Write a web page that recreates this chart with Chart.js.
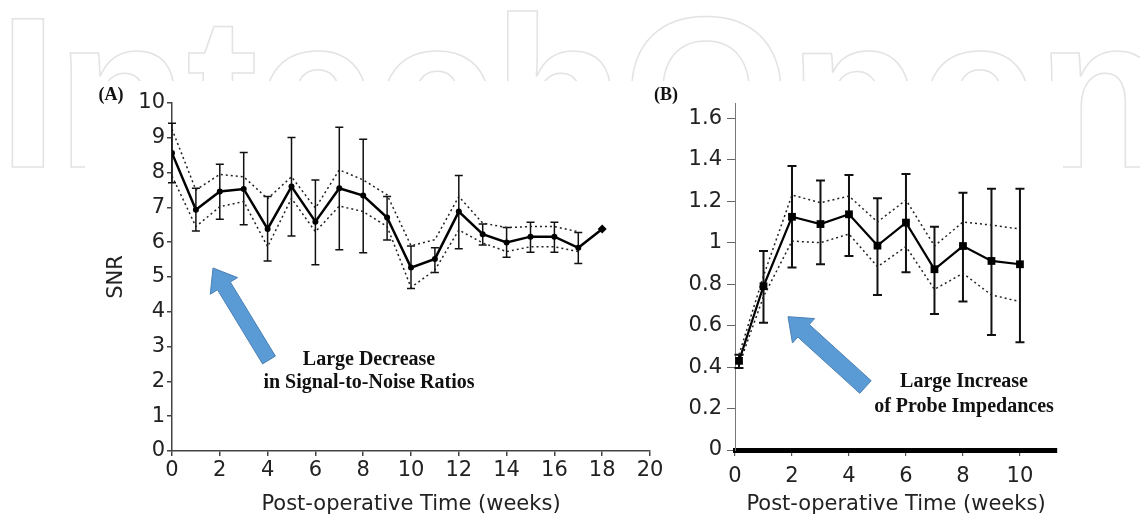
<!DOCTYPE html>
<html><head><meta charset="utf-8">
<script src="https://cdn.jsdelivr.net/npm/chart.js@4.4.1/dist/chart.umd.min.js"></script>
<style>
html,body{margin:0;padding:0;background:#fff;}
#wrap{position:relative;width:1140px;height:520px;overflow:hidden;background:#fff;}
#wm{position:absolute;left:0;top:0;}
#box{position:absolute;left:85px;top:81px;width:978px;height:439px;background:#fff;}
#ca{position:absolute;left:0;top:0;}
#cb{position:absolute;left:570px;top:0;}
</style></head><body>
<div id="wrap">
<svg id="wm" width="1140" height="520"><text x="-2" y="167" textLength="1170" lengthAdjust="spacing" font-family="Liberation Sans, Arial, sans-serif" font-weight="700" font-size="215" fill="none" stroke="#e3e3e3" stroke-width="1.5">IntechOpen</text></svg>
<div id="box"></div>
<canvas id="ca" width="680" height="520"></canvas>
<canvas id="cb" width="570" height="520"></canvas>
</div>
<script>
// ---- Panel A: SNR ----
const weeksA = [0,1,2,3,4,5,6,7,8,9,10,11,12,13,14,15,16,17,18];
const snrMean = [8.56,6.93,7.46,7.53,6.38,7.60,6.59,7.55,7.34,6.71,5.27,5.52,6.88,6.23,5.99,6.16,6.16,5.84,6.38];
const snrErrHigh = [9.42,7.55,8.24,8.58,7.31,9.01,7.79,9.30,8.96,7.31,5.89,5.84,7.92,6.52,6.42,6.57,6.57,6.28,null];
const snrErrLow = [7.71,6.32,6.66,6.50,5.46,6.18,5.35,5.78,5.70,6.06,4.67,5.13,5.81,5.92,5.57,5.71,5.71,5.39,null];
const snrBandUpper = [9.25,7.50,7.95,7.88,7.25,7.88,6.98,8.08,7.79,7.36,5.90,6.07,7.31,6.55,6.42,6.45,6.45,6.30];
const snrBandLower = [7.90,6.45,7.02,7.17,5.87,7.26,6.30,7.04,6.88,6.45,4.70,5.20,6.35,5.98,5.73,5.87,5.87,5.73];
const xTicksA = [0,2,4,6,8,10,12,14,16,18,20];
const yTicksA = [0,1,2,3,4,5,6,7,8,9,10];

// ---- Panel B: Impedance ----
const weeksB = [0.14,1,2,3,4,5,6,7,8,9,10];
const impMean = [0.43,0.79,1.125,1.09,1.137,0.986,1.097,0.872,0.984,0.912,0.896];
const impErrHigh = [0.46,0.96,1.37,1.30,1.327,1.214,1.331,1.077,1.241,1.26,1.26];
const impErrLow = [0.395,0.614,0.88,0.896,0.936,0.748,0.857,0.656,0.716,0.555,0.52];
const impBandUpper = [0.46,0.84,1.23,1.193,1.225,1.10,1.206,0.984,1.10,1.085,1.066];
const impBandLower = [0.41,0.74,1.008,1.0,1.042,0.884,0.981,0.775,0.852,0.748,0.716];
const xTicksB = [0,2,4,6,8,10];
const yTicksB = [0,0.2,0.4,0.6,0.8,1,1.2,1.4,1.6];
const yTickLabelsB = ['0','0.2','0.4','0.6','0.8','1','1.2','1.4','1.6'];

const SANS = '"DejaVu Sans", "Liberation Sans", Arial, sans-serif';
const SERIF = '"Liberation Serif", "Times New Roman", serif';
Chart.defaults.font.family = SANS;

function pts(xs, ys){ return ys.map((v,i)=>({x:xs[i], y:v})); }

function makeErrorBars(xs, hi, lo, width, cap){
  return {
    id:'errorBars',
    beforeDatasetsDraw(chart){
      const {ctx, scales:{x,y}} = chart;
      ctx.save();
      ctx.strokeStyle = '#111'; ctx.lineWidth = width; ctx.lineCap='butt';
      xs.forEach((xv,i)=>{
        if (hi[i]==null || lo[i]==null) return;
        const px = x.getPixelForValue(xv), p1 = y.getPixelForValue(hi[i]), p2 = y.getPixelForValue(lo[i]);
        ctx.beginPath();
        ctx.moveTo(px,p1); ctx.lineTo(px,p2);
        ctx.moveTo(px-cap,p1); ctx.lineTo(px+cap,p1);
        ctx.moveTo(px-cap,p2); ctx.lineTo(px+cap,p2);
        ctx.stroke();
      });
      ctx.restore();
    }
  };
}

function drawArrow(ctx, tail, tip, shaftW, headW, headL){
  const dx = tip.x-tail.x, dy = tip.y-tail.y, len = Math.hypot(dx,dy);
  const ux = dx/len, uy = dy/len, nx = -uy, ny = ux;
  const bx = tip.x-ux*headL, by = tip.y-uy*headL;
  ctx.save();
  ctx.beginPath();
  ctx.moveTo(tail.x+nx*shaftW/2, tail.y+ny*shaftW/2);
  ctx.lineTo(bx+nx*shaftW/2, by+ny*shaftW/2);
  ctx.lineTo(bx+nx*headW/2, by+ny*headW/2);
  ctx.lineTo(tip.x, tip.y);
  ctx.lineTo(bx-nx*headW/2, by-ny*headW/2);
  ctx.lineTo(bx-nx*shaftW/2, by-ny*shaftW/2);
  ctx.lineTo(tail.x-nx*shaftW/2, tail.y-ny*shaftW/2);
  ctx.closePath();
  ctx.fillStyle = '#5B9BD5'; ctx.fill();
  ctx.strokeStyle = '#4A80B5'; ctx.lineWidth = 1; ctx.stroke();
  ctx.restore();
}

function makeNotes(panel, lines, arrow){
  return {
    id:'notes',
    afterDraw(chart){
      const ctx = chart.ctx;
      ctx.save();
      ctx.fillStyle = '#111';
      ctx.font = 'bold 18px ' + SERIF;
      ctx.textAlign = 'center'; ctx.textBaseline = 'alphabetic';
      ctx.fillText(panel.text, panel.x, panel.y);
      ctx.font = 'bold 20px ' + SERIF;
      lines.forEach(l => ctx.fillText(l.text, l.x, l.y));
      ctx.restore();
      drawArrow(ctx, arrow.tail, arrow.tip, arrow.shaftW, arrow.headW, arrow.headL);
    }
  };
}

const tickFont = {family:SANS, size:21};
const titleFont = {family:SANS, size:21};

new Chart(document.getElementById('ca'), {
  type:'line',
  data:{datasets:[
    {data:pts(weeksA, snrMean), borderColor:'#000', borderWidth:2.5, tension:0,
     pointRadius:weeksA.map((w,i)=> i===weeksA.length-1 ? 4.5 : 3),
     pointStyle:weeksA.map((w,i)=> i===weeksA.length-1 ? 'rectRot' : 'circle'),
     pointBackgroundColor:'#000', pointBorderColor:'#000', pointBorderWidth:0},
    {data:pts(weeksA, snrBandUpper), borderColor:'#222', borderWidth:1.5, borderDash:[2,3], pointRadius:0, tension:0},
    {data:pts(weeksA, snrBandLower), borderColor:'#222', borderWidth:1.5, borderDash:[2,3], pointRadius:0, tension:0}
  ]},
  options:{
    responsive:false, animation:false, devicePixelRatio:1,
    layout:{padding:{left:0,right:30,top:103,bottom:0}},
    plugins:{legend:{display:false}, tooltip:{enabled:false}},
    scales:{
      x:{type:'linear', min:0, max:20,
         afterFit(s){ s.height = 69; },
         afterBuildTicks(s){ s.ticks = xTicksA.map(v=>({value:v})); },
         ticks:{font:tickFont, color:'#222', padding:2, maxRotation:0, callback:(v)=>String(v)},
         grid:{drawOnChartArea:false, drawTicks:true, tickLength:5, color:'#444', lineWidth:1.5},
         border:{display:true, color:'#444', width:1.5},
         title:{display:true, text:'Post-operative Time (weeks)', font:titleFont, color:'#222', padding:{top:0,bottom:3}}},
      y:{type:'linear', min:0, max:10,
         afterFit(s){ s.width = 172; },
         afterBuildTicks(s){ s.ticks = yTicksA.map(v=>({value:v})); },
         ticks:{font:tickFont, color:'#222', padding:2, callback:(v)=>String(v)},
         grid:{drawOnChartArea:false, drawTicks:true, tickLength:5, color:'#444', lineWidth:1.5},
         border:{display:true, color:'#444', width:1.5},
         title:{display:true, text:'SNR', font:titleFont, color:'#222', padding:{top:104,bottom:0}}}
    }
  },
  plugins:[
    makeErrorBars(weeksA, snrErrHigh, snrErrLow, 1.5, 4),
    makeNotes({text:'(A)', x:111, y:100},
      [{text:'Large Decrease', x:369, y:365},{text:'in Signal-to-Noise Ratios', x:369, y:388}],
      {tail:{x:269,y:360}, tip:{x:213,y:268}, shaftW:15, headW:32, headL:21})
  ]
});

new Chart(document.getElementById('cb'), {
  type:'line',
  data:{datasets:[
    {data:pts(weeksB, impMean), borderColor:'#000', borderWidth:2.2, tension:0,
     pointRadius:5.5, pointStyle:'rect', pointBackgroundColor:'#000', pointBorderColor:'#000', pointBorderWidth:0},
    {data:pts(weeksB, impBandUpper), borderColor:'#222', borderWidth:1.5, borderDash:[2,3], pointRadius:0, tension:0},
    {data:pts(weeksB, impBandLower), borderColor:'#222', borderWidth:1.5, borderDash:[2,3], pointRadius:0, tension:0}
  ]},
  options:{
    responsive:false, animation:false, devicePixelRatio:1,
    layout:{padding:{left:0,right:83,top:103,bottom:0}},
    plugins:{legend:{display:false}, tooltip:{enabled:false}},
    scales:{
      x:{type:'linear', min:0, max:11.3,
         afterFit(s){ s.height = 70; },
         afterBuildTicks(s){ s.ticks = xTicksB.map(v=>({value:v})); },
         ticks:{font:tickFont, color:'#222', padding:8, maxRotation:0, callback:(v)=>String(v)},
         grid:{drawOnChartArea:false, drawTicks:true, tickLength:6, color:'#555', lineWidth:1.2},
         border:{display:true, color:'#000', width:5},
         title:{display:true, text:'Post-operative Time (weeks)', font:titleFont, color:'#222', padding:{top:0,bottom:3}}},
      y:{type:'linear', min:0, max:1.674,
         afterFit(s){ s.width = 165; },
         afterBuildTicks(s){ s.ticks = yTicksB.map(v=>({value:v})); },
         ticks:{font:tickFont, color:'#222', padding:5, callback:(v,i)=>yTickLabelsB[i]},
         grid:{drawOnChartArea:false, drawTicks:true, tickLength:8, color:'#666', lineWidth:1},
         border:{display:true, color:'#777', width:1}}
    }
  },
  plugins:[
    makeErrorBars(weeksB, impErrHigh, impErrLow, 2, 4.5),
    makeNotes({text:'(B)', x:96, y:100},
      [{text:'Large Increase', x:394, y:387},{text:'of Probe Impedances', x:394, y:412}],
      {tail:{x:295.5,y:387}, tip:{x:218,y:316.7}, shaftW:17, headW:33, headL:21})
  ]
});
</script>
</body></html>
